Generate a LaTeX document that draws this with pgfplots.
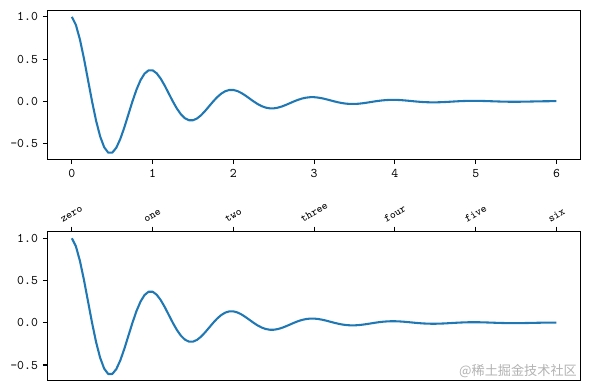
\documentclass[border=0pt]{standalone}
\usepackage{fontspec}
\usepackage{graphicx}
\usepackage{pgfplots}
\usepackage{pgfplotstable}
\pgfplotsset{compat=1.18}
\newfontfamily\cjk{Noto Sans CJK SC}
\definecolor{C0}{HTML}{1F77B4}
\pgfplotstableread{
t y
0.00 1.00000
0.05 0.90468
0.10 0.73203
0.15 0.50591
0.20 0.25300
0.25 0.00000
0.30 -0.22893
0.35 -0.41421
0.40 -0.54230
0.45 -0.60642
0.50 -0.60653
0.55 -0.54871
0.60 -0.44400
0.65 -0.30685
0.70 -0.15345
0.75 0.00000
0.80 0.13885
0.85 0.25123
0.90 0.32892
0.95 0.36781
1.00 0.36788
1.05 0.33281
1.10 0.26930
1.15 0.18611
1.20 0.09308
1.25 0.00000
1.30 -0.08422
1.35 -0.15238
1.40 -0.19950
1.45 -0.22309
1.50 -0.22313
1.55 -0.20186
1.60 -0.16334
1.65 -0.11288
1.70 -0.05645
1.75 0.00000
1.80 0.05108
1.85 0.09242
1.90 0.12100
1.95 0.13531
2.00 0.13534
2.05 0.12243
2.10 0.09907
2.15 0.06847
2.20 0.03424
2.25 0.00000
2.30 -0.03098
2.35 -0.05606
2.40 -0.07339
2.45 -0.08207
2.50 -0.08209
2.55 -0.07426
2.60 -0.06009
2.65 -0.04153
2.70 -0.02077
2.75 0.00000
2.80 0.01879
2.85 0.03400
2.90 0.04451
2.95 0.04978
3.00 0.04979
3.05 0.04504
3.10 0.03645
3.15 0.02519
3.20 0.01260
3.25 0.00000
3.30 -0.01140
3.35 -0.02062
3.40 -0.02700
3.45 -0.03019
3.50 -0.03020
3.55 -0.02732
3.60 -0.02211
3.65 -0.01528
3.70 -0.00764
3.75 0.00000
3.80 0.00691
3.85 0.01251
3.90 0.01638
3.95 0.01831
4.00 0.01832
4.05 0.01657
4.10 0.01341
4.15 0.00927
4.20 0.00463
4.25 0.00000
4.30 -0.00419
4.35 -0.00759
4.40 -0.00993
4.45 -0.01111
4.50 -0.01111
4.55 -0.01005
4.60 -0.00813
4.65 -0.00562
4.70 -0.00281
4.75 0.00000
4.80 0.00254
4.85 0.00460
4.90 0.00602
4.95 0.00674
5.00 0.00674
5.05 0.00610
5.10 0.00493
5.15 0.00341
5.20 0.00170
5.25 0.00000
5.30 -0.00154
5.35 -0.00279
5.40 -0.00365
5.45 -0.00409
5.50 -0.00409
5.55 -0.00370
5.60 -0.00299
5.65 -0.00207
5.70 -0.00103
5.75 0.00000
5.80 0.00094
5.85 0.00169
5.90 0.00222
5.95 0.00248
6.00 0.00248
}\datatable
\pgfplotsset{
  common/.style={
    scale only axis,
    width=383.8bp, height=107.4bp,
    anchor=south west,
    xmin=-0.3, xmax=6.3,
    ymin=-0.6853, ymax=1.0803,
    axis line style={line width=0.8pt},
    tick style={line width=0.8pt, black},
    tick align=outside,
    major tick length=3.5pt,
    ytick={-0.5,0,0.5,1},
    yticklabels={-0.5,0.0,0.5,1.0},
    ytick pos=left,
    yticklabel style={font=\ttfamily\fontsize{9.5}{10}\selectfont},
    xtick={0,1,2,3,4,5,6},
  },
}
\newcommand{\rl}[1]{\rotatebox{30}{#1}}
\begin{document}
\begin{tikzpicture}
\useasboundingbox (0,0) rectangle (424.8bp,280.8bp);
\begin{axis}[common, at={(34.3bp,166.1bp)},
  xtick pos=lower,
  xticklabels={0,1,2,3,4,5,6},
  xticklabel style={font=\ttfamily\fontsize{9.5}{10}\selectfont},
]
\addplot[C0, line width=1.5pt, line join=round] table[x=t,y=y] {\datatable};
\end{axis}
\begin{axis}[common, at={(34.3bp,6.7bp)},
  xtick pos=upper,
  xticklabel pos=upper,
  xticklabels={\rl{zero},\rl{one},\rl{two},\rl{three},\rl{four},\rl{five},\rl{six}},
  xticklabel style={font=\ttfamily\fontsize{8}{9}\selectfont, anchor=south, inner sep=3pt},
]
\addplot[C0, line width=1.5pt, line join=round] table[x=t,y=y] {\datatable};
\end{axis}
\node[anchor=base east, text=black!30, font=\cjk\fontsize{9.5}{10}\selectfont, inner sep=0pt] at (415.5bp,10.5bp) {@稀土掘金技术社区};
\end{tikzpicture}
\end{document}
